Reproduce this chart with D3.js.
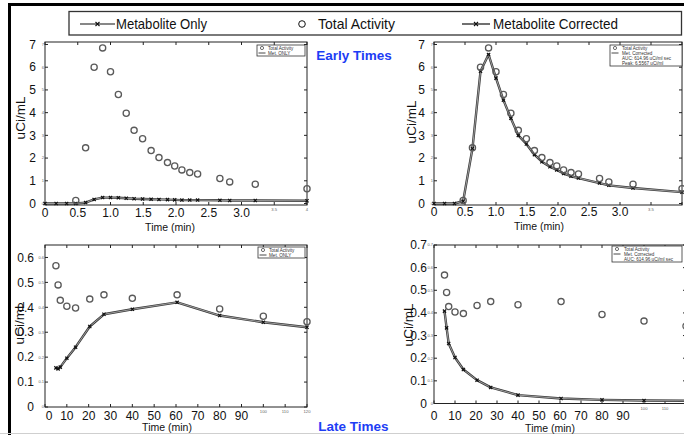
<!DOCTYPE html>
<html>
<head>
<meta charset="utf-8">
<script src="https://cdn.jsdelivr.net/npm/d3@7"></script>
<style>
  html, body { margin: 0; padding: 0; background: #fff; }
  svg { display: block; }
  text { font-family: "Liberation Sans Narrow", "Arial Narrow", "Liberation Sans", Arial, sans-serif; fill: #111; }
  .wide { font-family: "Liberation Sans", Arial, sans-serif; }
</style>
</head>
<body>
<svg id="chart" width="684" height="435"></svg>
<script>
// ---- Early times (minutes) ----
const earlyTime = [0, 0.17, 0.33, 0.47, 0.62, 0.75, 0.88, 1.0, 1.12, 1.24, 1.36, 1.49,
                   1.62, 1.74, 1.87, 1.98, 2.09, 2.21, 2.33, 2.67, 2.82, 3.21, 4.0];
const earlyTotal = [null, null, null, 0.13, 2.45, 6.0, 6.85, 5.8, 4.8, 3.97, 3.22, 2.85,
                    2.33, 2.02, 1.8, 1.65, 1.48, 1.36, 1.3, 1.1, 0.95, 0.85, 0.65];
const earlyMetabOnly = [0, 0, 0, 0, 0.04, 0.18, 0.26, 0.26, 0.25, 0.23, 0.21, 0.2,
                        0.19, 0.18, 0.17, 0.16, 0.15, 0.15, 0.15, 0.14, 0.13, 0.13, 0.12];
const earlyCorrected = [0, 0, 0, 0.1, 2.42, 5.82, 6.5567, 5.52, 4.55, 3.75, 3.0, 2.62,
                        2.15, 1.84, 1.62, 1.48, 1.32, 1.2, 1.12, 0.9, 0.8, 0.68, 0.5];

// ---- Late times (minutes) ----
const lateTime = [5, 6, 7, 10, 14, 20.5, 27, 40, 60.5, 80, 100, 120];
const lateTotal = [0.567, 0.49, 0.428, 0.404, 0.397, 0.433, 0.45, 0.436, 0.45, 0.393, 0.364, 0.342];
const lateMetabOnly = [0.157, 0.153, 0.16, 0.196, 0.24, 0.323, 0.372, 0.392, 0.42, 0.367, 0.34, 0.32];
const lateCorrected = [0.408, 0.334, 0.265, 0.203, 0.15, 0.103, 0.071, 0.037, 0.022, 0.016, 0.013, 0.012];

// ---- Axis ticks and labels ----
const earlyXTicks = [0, 0.5, 1, 1.5, 2, 2.5, 3, 3.5, 4];
const earlyXLabels = [0, 0.5, 1, 1.5, 2, 2.5, 3];
const earlyXSmall = [3.5, 4];
const earlyYTicks = [0, 1, 2, 3, 4, 5, 6, 7];
const lateXTicks = [0, 10, 20, 30, 40, 50, 60, 70, 80, 90, 100, 110, 120];
const lateXLabels = [0, 10, 20, 30, 40, 50, 60, 70, 80, 90];
const lateXSmall = [100, 110, 120];
const lateYTicksLeft = [0, 0.1, 0.2, 0.3, 0.4, 0.5, 0.6];
const lateYTicksRight = [0, 0.1, 0.2, 0.3, 0.4, 0.5, 0.6, 0.7];

// ---- Legend text ----
const mainLegend = ["Metabolite Only", "Total Activity", "Metabolite Corrected"];
const aucText = "AUC: 614.96 uCi/ml sec";

const svg = d3.select("#chart");

// page frame
svg.append("rect").attr("x", 8).attr("y", 3).attr("width", 676).attr("height", 3).attr("fill", "#000");
svg.append("rect").attr("x", 8).attr("y", 3).attr("width", 3).attr("height", 432).attr("fill", "#000");
svg.append("line").attr("x1", 0).attr("x2", 684).attr("y1", 433.5).attr("y2", 433.5)
   .attr("stroke", "#cfcfcf").attr("stroke-width", 1);

// ---- Main legend ----
const lg = svg.append("g");
lg.append("rect").attr("x", 69).attr("y", 11.5).attr("width", 612.5).attr("height", 23.5)
  .attr("fill", "#fff").attr("stroke", "#333").attr("stroke-width", 1.3);

function crossPath(x, y, s) {
  return `M${x - s},${y - s}L${x + s},${y + s}M${x - s},${y + s}L${x + s},${y - s}`;
}

function legendLine(x1, x2, y) {
  lg.append("line").attr("x1", x1).attr("x2", x2).attr("y1", y).attr("y2", y)
    .attr("stroke", "#111").attr("stroke-width", 1.2);
  lg.append("path").attr("d", crossPath((x1 + x2) / 2, y, 2)).attr("stroke", "#111").attr("stroke-width", 1.1);
}
legendLine(80, 115, 24);
lg.append("text").attr("class", "wide").attr("x", 116).attr("y", 29)
  .attr("font-size", 14.3).attr("textLength", 91).attr("lengthAdjust", "spacingAndGlyphs").text(mainLegend[0]);
lg.append("circle").attr("cx", 302).attr("cy", 24).attr("r", 3.3)
  .attr("fill", "none").attr("stroke", "#111").attr("stroke-width", 1);
lg.append("text").attr("class", "wide").attr("x", 318).attr("y", 29)
  .attr("font-size", 14.3).attr("textLength", 77).attr("lengthAdjust", "spacingAndGlyphs").text(mainLegend[1]);
legendLine(462, 490, 24);
lg.append("text").attr("class", "wide").attr("x", 493).attr("y", 29)
  .attr("font-size", 14.3).attr("textLength", 125).attr("lengthAdjust", "spacingAndGlyphs").text(mainLegend[2]);

// ---- Section titles ----
svg.append("text").attr("class", "wide").attr("x", 354).attr("y", 60).attr("text-anchor", "middle")
  .attr("font-size", 13.5).attr("font-weight", "bold").style("fill", "#1d3df5").text("Early Times");
svg.append("text").attr("class", "wide").attr("x", 353.5).attr("y", 431).attr("text-anchor", "middle")
  .attr("font-size", 13.5).attr("font-weight", "bold").style("fill", "#1d3df5").text("Late Times");

// ---- Panel drawing ----
const fmtEarly = d => d === 0 ? "0" : d3.format(".1f")(d);
const fmtLate = d => d3.format("")(d);
const fmtLateY = d => d === 0 ? "0" : d3.format(".1f")(d);

function drawPanel(p) {
  const x = d3.scaleLinear().domain(p.xDomain).range(p.xRange);
  const y = d3.scaleLinear().domain(p.yDomain).range(p.yRange);
  const g = svg.append("g");
  const [x0, x1] = p.xRange;
  const [yb, yt] = p.yRange;

  g.append("rect").attr("x", x0).attr("y", yt).attr("width", x1 - x0).attr("height", yb - yt)
    .attr("fill", "#fff").attr("stroke", "#222").attr("stroke-width", 1);

  // inward ticks on all four sides
  const tl = 3;
  p.xTicks.forEach(t => {
    const xx = x(t);
    g.append("line").attr("x1", xx).attr("x2", xx).attr("y1", yb).attr("y2", yb - tl).attr("stroke", "#222");
    g.append("line").attr("x1", xx).attr("x2", xx).attr("y1", yt).attr("y2", yt + tl).attr("stroke", "#222");
  });
  p.yTicks.forEach(t => {
    const yy = y(t);
    g.append("line").attr("x1", x0).attr("x2", x0 + tl).attr("y1", yy).attr("y2", yy).attr("stroke", "#222");
    g.append("line").attr("x1", x1).attr("x2", x1 - tl).attr("y1", yy).attr("y2", yy).attr("stroke", "#222");
  });

  // small tick numbers next to the frame
  p.yTicks.forEach(t => {
    g.append("text").attr("x", x0 - 1).attr("y", y(t) + 1.4).attr("text-anchor", "end")
      .attr("font-size", 4).style("fill", "#666").text(p.smallYFmt(t));
  });
  p.xSmall.forEach(t => {
    g.append("text").attr("x", x(t)).attr("y", yb + 6).attr("text-anchor", "middle")
      .attr("font-size", 4.2).style("fill", "#666").text(p.smallXFmt(t));
  });

  // main tick labels
  p.xLabels.forEach(t => {
    g.append("text").attr("x", t === 0 ? x(t) + p.zeroShift : x(t)).attr("y", p.xLabelY)
      .attr("text-anchor", "middle").attr("font-size", 12).text(p.xFmt(t));
  });
  p.yTicks.forEach(t => {
    g.append("text").attr("x", p.yLabelX).attr("y", y(t) + 4.2)
      .attr("text-anchor", "end").attr("font-size", 12).text(p.yFmt(t));
  });

  // axis titles
  g.append("text").attr("x", p.xTitle[0]).attr("y", p.xTitle[1]).attr("text-anchor", "middle")
    .attr("font-size", 10.5).text("Time (min)");
  g.append("text").attr("class", "wide")
    .attr("transform", `translate(${p.yTitle[0]},${p.yTitle[1]}) rotate(-90)`)
    .attr("text-anchor", "middle").attr("font-size", 13.5).text("uCi/mL");

  // data
  const clipId = "clip" + p.id;
  g.append("clipPath").attr("id", clipId).append("rect")
    .attr("x", x0 - 6).attr("y", yt - 6).attr("width", x1 - x0 + 12).attr("height", yb - yt + 12);
  const dg = g.append("g").attr("clip-path", `url(#${clipId})`);

  const pts = p.time.map((t, i) => ({ t, v: p.line[i] }));
  const lineGen = d3.line().x(d => x(d.t)).y(d => y(d.v));
  dg.append("path").datum(pts).attr("d", lineGen).attr("fill", "none")
    .attr("stroke", "#3a3a3a").attr("stroke-width", 2.4).attr("stroke-linejoin", "round");
  dg.append("path").datum(pts).attr("d", lineGen).attr("fill", "none")
    .attr("stroke", "#a8a8a8").attr("stroke-width", 0.9).attr("stroke-linejoin", "round");
  dg.selectAll("path.mk").data(pts).join("path").attr("class", "mk")
    .attr("d", d => crossPath(x(d.t), y(d.v), 1.6)).attr("stroke", "#111").attr("stroke-width", 1.2);

  const circ = p.time.map((t, i) => ({ t, v: p.total[i] })).filter(d => d.v !== null);
  dg.selectAll("circle.tot").data(circ).join("circle").attr("class", "tot")
    .attr("cx", d => x(d.t)).attr("cy", d => y(d.v)).attr("r", 3.1)
    .attr("fill", "none").attr("stroke", "#5a5a5a").attr("stroke-width", 1.3);

  // inset legend
  const L = p.inset;
  g.append("rect").attr("x", L.x).attr("y", L.y).attr("width", L.w).attr("height", L.h)
    .attr("fill", "#fff").attr("stroke", "#333").attr("stroke-width", 0.8);
  L.rows.forEach((r, i) => {
    const ry = L.y + 3 + i * 5;
    if (r.sym === "circle") {
      g.append("circle").attr("cx", L.x + 5).attr("cy", ry).attr("r", 1.6)
        .attr("fill", "none").attr("stroke", "#333").attr("stroke-width", 0.7);
    } else if (r.sym === "line") {
      g.append("line").attr("x1", L.x + 1.5).attr("x2", L.x + 8.5).attr("y1", ry).attr("y2", ry)
        .attr("stroke", "#333").attr("stroke-width", 0.9);
    }
    g.append("text").attr("x", L.x + L.tx).attr("y", ry + 1.6).attr("font-size", 4.6)
      .style("fill", "#333").text(r.text);
  });
}

const peakText = "Peak: " + d3.format(".4f")(d3.max(earlyCorrected)) + " uCi/ml";

drawPanel({
  id: "tl", xDomain: [0, 4], xRange: [45, 307], yDomain: [-0.066, 7.11], yRange: [205, 42],
  time: earlyTime, total: earlyTotal, line: earlyMetabOnly,
  xTicks: earlyXTicks, xLabels: earlyXLabels, xSmall: earlyXSmall, yTicks: earlyYTicks,
  xFmt: fmtEarly, yFmt: d => d, smallXFmt: d => d, smallYFmt: d => d, zeroShift: 0,
  xLabelY: 217, yLabelX: 36, xTitle: [170, 230.5], yTitle: [25, 118],
  inset: { x: 257, y: 45, w: 48, h: 11, tx: 11, rows: [
    { sym: "circle", text: "Total Activity" }, { sym: "line", text: "Met. ONLY" }] }
});

drawPanel({
  id: "tr", xDomain: [0, 4], xRange: [434, 682], yDomain: [-0.066, 7.11], yRange: [205, 42],
  time: earlyTime, total: earlyTotal, line: earlyCorrected,
  xTicks: earlyXTicks, xLabels: earlyXLabels, xSmall: [3.5], yTicks: earlyYTicks,
  xFmt: fmtEarly, yFmt: d => d, smallXFmt: d => d, smallYFmt: d => d, zeroShift: 0,
  xLabelY: 216, yLabelX: 425, xTitle: [539, 229.5], yTitle: [416, 122],
  inset: { x: 610, y: 45, w: 72, h: 21, tx: 12, rows: [
    { sym: "circle", text: "Total Activity" }, { sym: "line", text: "Met. Corrected" },
    { sym: null, text: aucText }, { sym: null, text: peakText }] }
});

drawPanel({
  id: "bl", xDomain: [0, 120], xRange: [45, 307], yDomain: [0, 0.65], yRange: [407, 245],
  time: lateTime, total: lateTotal, line: lateMetabOnly,
  xTicks: lateXTicks, xLabels: lateXLabels, xSmall: lateXSmall, yTicks: lateYTicksLeft,
  xFmt: fmtLate, yFmt: fmtLateY, smallXFmt: d => d, smallYFmt: fmtLateY, zeroShift: 4,
  xLabelY: 419.5, yLabelX: 34, xTitle: [167, 431], yTitle: [23.5, 323],
  inset: { x: 258, y: 247, w: 47, h: 11, tx: 11, rows: [
    { sym: "circle", text: "Total Activity" }, { sym: "line", text: "Met. ONLY" }] }
});

drawPanel({
  id: "br", xDomain: [0, 120], xRange: [434, 686], yDomain: [0, 0.7], yRange: [403.5, 245],
  time: lateTime, total: lateTotal, line: lateCorrected,
  xTicks: lateXTicks, xLabels: lateXLabels, xSmall: [100, 110], yTicks: lateYTicksRight,
  xFmt: fmtLate, yFmt: fmtLateY, smallXFmt: d => d, smallYFmt: fmtLateY, zeroShift: 0,
  xLabelY: 419.5, yLabelX: 427, xTitle: [550, 432], yTitle: [413, 325],
  inset: { x: 612, y: 246, w: 70, h: 16, tx: 12, rows: [
    { sym: "circle", text: "Total Activity" }, { sym: "line", text: "Met. Corrected" },
    { sym: null, text: aucText }] }
});
</script>
</body>
</html>
